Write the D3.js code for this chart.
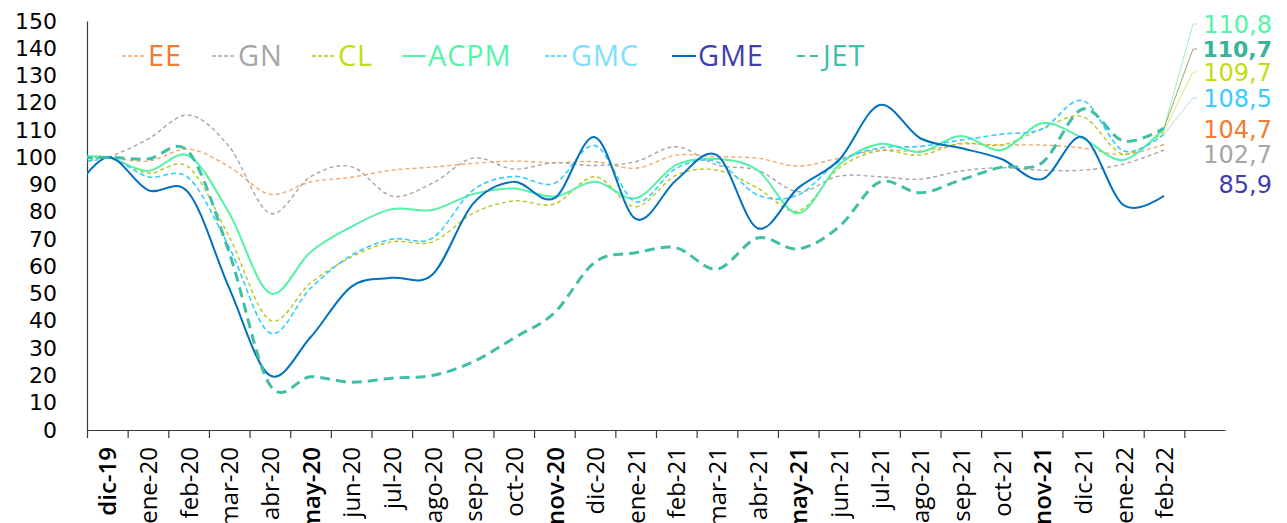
<!DOCTYPE html>
<html>
<head>
<meta charset="utf-8">
<script src="https://cdn.jsdelivr.net/npm/d3@7/dist/d3.min.js"></script>
<style>
  body { margin: 0; background: #fff; overflow: hidden; }
  svg { display: block; }
</style>
</head>
<body>
<svg id="chart" width="1287" height="523"></svg>
<script>
// first entry (nov-19) only feeds the clipped lead-in of each curve
var months = ['nov-19', 'dic-19', 'ene-20', 'feb-20', 'mar-20', 'abr-20', 'may-20', 'jun-20', 'jul-20',
  'ago-20', 'sep-20', 'oct-20', 'nov-20', 'dic-20', 'ene-21', 'feb-21', 'mar-21', 'abr-21', 'may-21',
  'jun-21', 'jul-21', 'ago-21', 'sep-21', 'oct-21', 'nov-21', 'dic-21', 'ene-22', 'feb-22'];
var boldMonths = ['dic-19', 'may-20', 'nov-20', 'may-21', 'nov-21'];
var yTicks = [0, 10, 20, 30, 40, 50, 60, 70, 80, 90, 100, 110, 120, 130, 140, 150];

var ee = [100, 100, 98.6, 103, 96.5, 86.5, 91, 92.7, 95.3, 96.4, 97.8, 98.6, 98, 98.4, 96, 100.8,
  100.2, 99.7, 96.8, 99.7, 102.7, 102.3, 104.9, 104.5, 104.5, 103.4, 101, 104.7];
var gn = [97.5, 100, 106.7, 115.5, 103.9, 79.5, 92.9, 96.6, 85.8, 90.5, 99.7, 95.7, 98, 97, 98.4, 103.9,
  97.2, 95.3, 87.4, 93.1, 92.9, 92, 95, 96.2, 95.3, 95.3, 97.5, 102.7];
var cl = [98, 100, 94.2, 96.4, 70.8, 40.3, 53.9, 63.4, 69, 69, 79.5, 84, 82.9, 92.9, 81.9, 93.5,
  95.3, 88.7, 80.3, 96, 102.4, 100.8, 105.2, 104.5, 110.4, 114.9, 101.2, 109.7];
var acpm = [100, 100, 95, 100.5, 79.5, 50.2, 65.3, 74.5, 81, 80.7, 86.5, 88.6, 85.6, 91, 85, 97.2,
  99.4, 95.3, 79.5, 97.2, 104.9, 102, 107.8, 102.7, 112.5, 107, 99, 110.8];
var gmc = [95, 100, 92.9, 92.4, 67, 35.6, 52, 64, 70, 70.4, 88, 93, 90.5, 104.3, 83.7, 96,
  98.4, 86.2, 86.2, 98.4, 103.4, 104, 106.3, 108.5, 110.4, 120.8, 102.4, 108.5];
var gme = [84, 100, 88, 87, 52, 20, 34, 52.5, 55.8, 57, 83, 91, 85, 107.4, 77.4, 91.7,
  100.8, 74, 88.8, 99, 119.2, 107, 103.4, 99.4, 92, 107.4, 82.5, 85.9];
var jet = [99.5, 100, 99.4, 102, 65, 16.5, 19.5, 17.5, 19, 20, 25, 33.7, 43, 61.6, 65, 66.8,
  59, 70.4, 66.4, 74.5, 90.9, 87, 91.7, 96.4, 98, 117.7, 106, 110.7];

var series = [
  { name: 'EE', values: ee, color: '#F4A86C', text: '#ED7D31', width: 1.4, dash: '4,3', labelY: 129, lead: null },
  { name: 'GN', values: gn, color: '#A6A6A6', text: '#A6A6A6', width: 1.4, dash: '4,3', labelY: 154, lead: null },
  { name: 'CL', values: cl, color: '#B3C81A', text: '#C3DC12', width: 1.4, dash: '4,3', labelY: 72, lead: '#D8EA70' },
  { name: 'ACPM', values: acpm, color: '#55F2A6', text: '#55F5A8', width: 2, dash: null, labelY: 24, lead: '#9AF5BE' },
  { name: 'GMC', values: gmc, color: '#35CCFF', text: '#80DEFF', width: 1.6, dash: '5,3', labelY: 98, lead: '#B9D5F0', labelColor: '#3CCBFF' },
  { name: 'GME', values: gme, color: '#0070C0', text: '#3F3FB0', width: 2, dash: null, labelY: 184, lead: null },
  { name: 'JET', values: jet, color: '#40BFA6', text: '#3FBFA6', width: 3, dash: '10,6', labelY: 49, lead: '#8FAF6A', labelColor: '#38B49A', bold: true }
];

var legendX = [122, 212, 312, 402, 545, 672, 797];

var svg = d3.select('#chart');

var x = d3.scaleLinear().domain([0.5, 28.5]).range([87, 1225]);
var y = d3.scaleLinear().domain([0, 150]).range([430, 21]);

svg.append('defs').append('clipPath').attr('id', 'plot')
  .append('rect').attr('x', x(0.5)).attr('y', 0).attr('width', x(28.5) - x(0.5)).attr('height', 523);

// y axis
var yAxis = svg.append('g')
  .attr('transform', 'translate(' + x(0.5) + ',0)')
  .call(d3.axisLeft(y).tickValues(yTicks).tickSize(0).tickPadding(30));
yAxis.select('.domain').attr('stroke', '#3a3a3a').attr('stroke-width', 1.2);
yAxis.selectAll('text')
  .attr('font-family', 'DejaVu Sans')
  .attr('font-size', 22)
  .attr('fill', '#000');

// x axis: tick marks on month boundaries, labels on month centres
var bounds = d3.range(0.5, 28, 1);
var xTickAxis = svg.append('g')
  .attr('transform', 'translate(0,' + y(0) + ')')
  .call(d3.axisBottom(x).tickValues(bounds).tickSize(8).tickSizeOuter(0).tickFormat(''));
xTickAxis.select('.domain').attr('stroke', '#3a3a3a').attr('stroke-width', 1.2);
xTickAxis.selectAll('.tick line').attr('stroke', '#3a3a3a').attr('stroke-width', 1.2);

var xLabelAxis = svg.append('g')
  .attr('transform', 'translate(0,' + y(0) + ')')
  .call(d3.axisBottom(x).tickValues(d3.range(1, months.length)).tickSize(0)
    .tickFormat(function (i) { return months[i]; }));
xLabelAxis.select('.domain').remove();
xLabelAxis.selectAll('text')
  .attr('transform', 'rotate(-90)')
  .attr('x', -17)
  .attr('y', 0)
  .attr('dy', '0.36em')
  .attr('text-anchor', 'end')
  .attr('font-family', 'Open Sans')
  .attr('font-size', 24)
  .attr('font-weight', function (i) { return boldMonths.indexOf(months[i]) >= 0 ? 600 : 400; })
  .attr('fill', '#000');

// lines
var line = d3.line()
  .x(function (d, i) { return x(i); })
  .y(function (d) { return y(d); })
  .curve(d3.curveCardinal.tension(0));

var plot = svg.append('g').attr('clip-path', 'url(#plot)');
plot.selectAll('path')
  .data(series)
  .enter().append('path')
  .attr('d', function (s) { return line(s.values); })
  .attr('fill', 'none')
  .attr('stroke', function (s) { return s.color; })
  .attr('stroke-width', function (s) { return s.width; })
  .attr('stroke-dasharray', function (s) { return s.dash; });

// end labels
var last = months.length - 1;
var labelRight = 1272;
var labelLeft = 1193;
svg.append('g').selectAll('path')
  .data(series.filter(function (s) { return s.lead; }))
  .enter().append('path')
  .attr('d', function (s) {
    return 'M' + x(last) + ',' + y(s.values[last]) + 'L' + labelLeft + ',' + s.labelY + 'H' + (labelLeft + 4);
  })
  .attr('fill', 'none')
  .attr('stroke', function (s) { return s.lead; })
  .attr('stroke-width', 1);

svg.append('g').selectAll('text')
  .data(series)
  .enter().append('text')
  .attr('x', labelRight)
  .attr('y', function (s) { return s.labelY; })
  .attr('dy', '0.36em')
  .attr('text-anchor', 'end')
  .attr('font-family', 'DejaVu Sans')
  .attr('font-size', function (s) { return s.bold ? 22 : 24; })
  .attr('font-weight', function (s) { return s.bold ? 700 : 400; })
  .attr('fill', function (s) { return s.labelColor || s.text; })
  .text(function (s) { return d3.format('.1f')(s.values[last]).replace('.', ','); });

// legend
var legend = svg.append('g').selectAll('g')
  .data(series)
  .enter().append('g')
  .attr('transform', function (s, i) { return 'translate(' + legendX[i] + ',56)'; });
legend.append('line')
  .attr('x1', 0).attr('x2', 24)
  .attr('stroke', function (s) { return s.color; })
  .attr('stroke-width', function (s) { return Math.min(s.width, 2.2); })
  .attr('stroke-dasharray', function (s) { return s.dash ? (s.name === 'JET' ? '8,5' : '4,2') : null; });
legend.append('text')
  .attr('x', 26)
  .attr('dy', '0.36em')
  .attr('font-family', 'Open Sans')
  .attr('font-size', 29)
  .attr('letter-spacing', 0.8)
  .attr('fill', function (s) { return s.text; })
  .text(function (s) { return s.name; });
</script>
</body>
</html>
